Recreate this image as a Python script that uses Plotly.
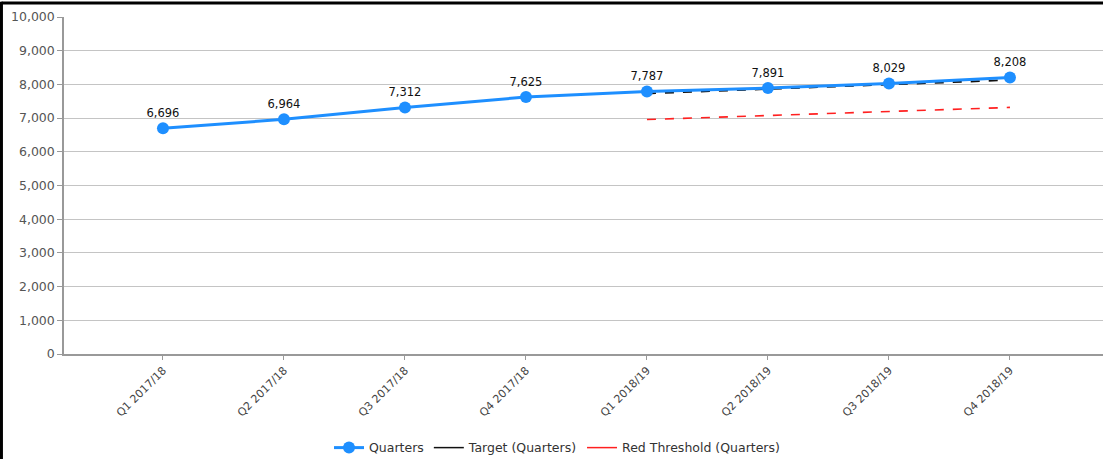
import plotly.graph_objects as go

quarters = ["Q1 2017/18", "Q2 2017/18", "Q3 2017/18", "Q4 2017/18",
            "Q1 2018/19", "Q2 2018/19", "Q3 2018/19", "Q4 2018/19"]
actual = [6696, 6964, 7312, 7625, 7787, 7891, 8029, 8208]
target_quarters = quarters[4:]
target = [7730, 7860, 7990, 8130]
red_threshold = [6957, 7074, 7191, 7317]

FONT = "DejaVu Sans"
BLUE = "#1e8fff"

fig = go.Figure()

fig.add_trace(go.Scatter(
    x=target_quarters, y=red_threshold, mode="lines",
    line=dict(color="#ff2020", width=1.6, dash="dash"),
    showlegend=False, hoverinfo="skip"))
fig.add_trace(go.Scatter(
    x=target_quarters, y=target, mode="lines",
    line=dict(color="#111111", width=1.8, dash="dash"),
    showlegend=False, hoverinfo="skip"))
fig.add_trace(go.Scatter(
    x=quarters, y=actual, mode="lines+markers+text", name="Quarters",
    line=dict(color=BLUE, width=3),
    marker=dict(color=BLUE, size=12),
    text=[f"{v:,}" for v in actual], textposition="top center",
    textfont=dict(family=FONT, size=11.5, color="#111111")))

# legend entries drawn with solid swatches
fig.add_trace(go.Scatter(x=[None], y=[None], mode="lines", name="Target (Quarters)",
                         line=dict(color="#111111", width=1.5)))
fig.add_trace(go.Scatter(x=[None], y=[None], mode="lines", name="Red Threshold (Quarters)",
                         line=dict(color="#ff2020", width=1.5)))

fig.update_layout(
    width=1103, height=459,
    margin=dict(l=64, r=0, t=17, b=105, autoexpand=False),
    paper_bgcolor="white", plot_bgcolor="white",
    font=dict(family=FONT, color="#444444"),
    showlegend=True,
    legend=dict(orientation="h", xref="container", x=0.505, xanchor="center",
                yref="container", y=0.024, yanchor="middle",
                font=dict(family=FONT, size=12.5, color="#333333"),
                traceorder="normal", itemwidth=30),
    xaxis=dict(
        type="category", categoryorder="array", categoryarray=quarters,
        range=[-0.818, 7.769], automargin=False,
        showgrid=False, showline=True, linecolor="#999999", linewidth=1.5,
        ticks="outside", ticklen=4, tickcolor="#999999",
        tickangle=-45, tickfont=dict(family=FONT, size=11, color="#444444"),
        zeroline=False),
    yaxis=dict(
        range=[0, 10000], dtick=1000, tickformat=",d", automargin=False,
        showgrid=True, gridcolor="#c4c4c4", gridwidth=1.2,
        showline=True, linecolor="#999999", linewidth=1.5,
        ticks="outside", ticklen=5, tickcolor="#999999",
        tickfont=dict(family=FONT, size=12.5, color="#555555"),
        zeroline=False),
    shapes=[
        dict(type="line", xref="paper", yref="paper",
             x0=-0.0602, x1=-0.0602, y0=-0.32, y1=1.045,
             line=dict(color="black", width=3)),
        dict(type="line", xref="paper", yref="paper",
             x0=-0.0602, x1=1.0, y0=1.0415, y1=1.0415,
             line=dict(color="black", width=3)),
    ],
)

fig.write_html("out.html")
